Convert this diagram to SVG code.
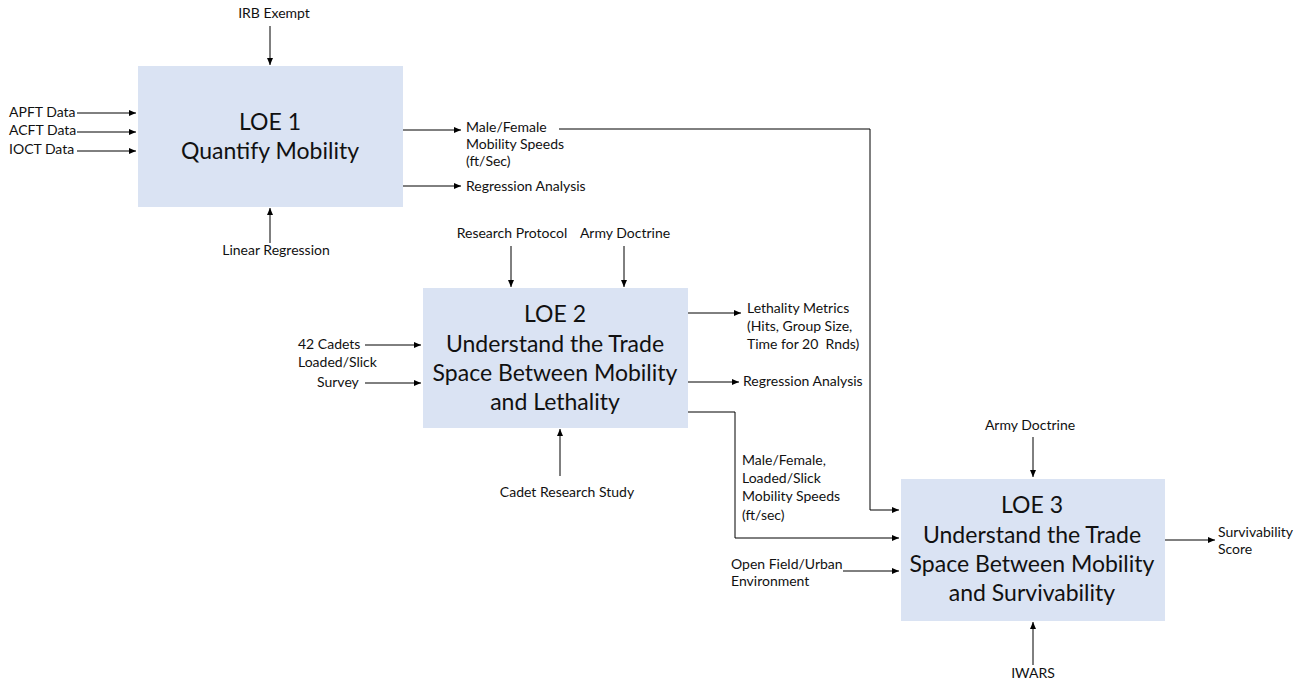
<svg xmlns="http://www.w3.org/2000/svg" width="1302" height="680" viewBox="0 0 1302 680">
<defs>
<marker id="ah" markerWidth="8" markerHeight="8" refX="7" refY="4" orient="auto" markerUnits="userSpaceOnUse">
<path d="M0,1 L7,4 L0,7 Z" fill="#000"/>
</marker>
<style>
.box{fill:#dae3f3;}
.big{font-family:Lato,"Liberation Sans",sans-serif;font-size:23px;fill:#111;text-anchor:middle;}
.sm{font-family:Lato,"Liberation Sans",sans-serif;font-size:14px;fill:#111;}
.mid{text-anchor:middle;}
.ln{fill:none;stroke:#000;stroke-width:1;}
.ar{marker-end:url(#ah);}
</style>
</defs>
<rect width="1302" height="680" fill="#fff"/>

<g id="loe1">
<rect class="box" x="138" y="66" width="265" height="141"/>
<text class="big" x="270" y="130">LOE 1</text>
<text class="big" x="270" y="159">Quantify Mobility</text>
</g>

<g id="loe2">
<rect class="box" x="423" y="288" width="265" height="140"/>
<text class="big" x="555" y="322">LOE 2</text>
<text class="big" x="555" y="352">Understand the Trade</text>
<text class="big" x="555" y="381">Space Between Mobility</text>
<text class="big" x="555" y="410">and Lethality</text>
</g>

<g id="loe3">
<rect class="box" x="901" y="479" width="264" height="142"/>
<text class="big" x="1032" y="513">LOE 3</text>
<text class="big" x="1032" y="543">Understand the Trade</text>
<text class="big" x="1032" y="572">Space Between Mobility</text>
<text class="big" x="1032" y="601">and Survivability</text>
</g>

<g id="labels">
<text class="sm mid" x="274" y="18">IRB Exempt</text>
<text class="sm" x="9" y="117">APFT Data</text>
<text class="sm" x="9" y="135">ACFT Data</text>
<text class="sm" x="9" y="154">IOCT Data</text>
<text class="sm mid" x="276" y="255">Linear Regression</text>
<text class="sm" x="466" y="132">Male/Female</text>
<text class="sm" x="466" y="149">Mobility Speeds</text>
<text class="sm" x="466" y="166">(ft/Sec)</text>
<text class="sm" x="466" y="191">Regression Analysis</text>
<text class="sm mid" x="512" y="238">Research Protocol</text>
<text class="sm mid" x="625" y="238">Army Doctrine</text>
<text class="sm" x="298" y="349">42 Cadets</text>
<text class="sm" x="298" y="367">Loaded/Slick</text>
<text class="sm" x="317" y="387">Survey</text>
<text class="sm mid" x="567" y="497">Cadet Research Study</text>
<text class="sm" x="747" y="313">Lethality Metrics</text>
<text class="sm" x="747" y="331">(Hits, Group Size,</text>
<text class="sm" x="747" y="349" xml:space="preserve">Time for 20  Rnds)</text>
<text class="sm" x="743" y="386">Regression Analysis</text>
<text class="sm" x="742" y="465">Male/Female,</text>
<text class="sm" x="742" y="483">Loaded/Slick</text>
<text class="sm" x="742" y="501">Mobility Speeds</text>
<text class="sm" x="742" y="520">(ft/sec)</text>
<text class="sm mid" x="1030" y="430">Army Doctrine</text>
<text class="sm" x="731" y="569">Open Field/Urban</text>
<text class="sm" x="731" y="586">Environment</text>
<text class="sm" x="1218" y="537">Survivability</text>
<text class="sm" x="1218" y="554">Score</text>
<text class="sm mid" x="1033" y="678">IWARS</text>
</g>

<g id="connectors">
<line class="ln ar" x1="270" y1="26" x2="270" y2="65"/>
<line class="ln ar" x1="77" y1="113" x2="136" y2="113"/>
<line class="ln ar" x1="77" y1="132" x2="136" y2="132"/>
<line class="ln ar" x1="77" y1="151" x2="136" y2="151"/>
<line class="ln ar" x1="270" y1="243" x2="270" y2="208"/>
<line class="ln ar" x1="403" y1="130" x2="461" y2="130"/>
<line class="ln ar" x1="403" y1="186" x2="461" y2="186"/>
<polyline class="ln ar" points="559,129 870,129 870,510 899,510"/>
<line class="ln ar" x1="511" y1="246" x2="511" y2="287"/>
<line class="ln ar" x1="624" y1="246" x2="624" y2="287"/>
<line class="ln ar" x1="365" y1="345" x2="421" y2="345"/>
<line class="ln ar" x1="365" y1="383" x2="421" y2="383"/>
<line class="ln ar" x1="560" y1="476" x2="560" y2="429"/>
<line class="ln ar" x1="688" y1="313" x2="741" y2="313"/>
<line class="ln ar" x1="688" y1="382" x2="739" y2="382"/>
<polyline class="ln ar" points="688,412 735,412 735,538 899,538"/>
<line class="ln ar" x1="1033" y1="437" x2="1033" y2="477"/>
<line class="ln ar" x1="843" y1="571" x2="899" y2="571"/>
<line class="ln ar" x1="1165" y1="540" x2="1215" y2="540"/>
<line class="ln ar" x1="1033" y1="665" x2="1033" y2="622"/>
</g>
</svg>
